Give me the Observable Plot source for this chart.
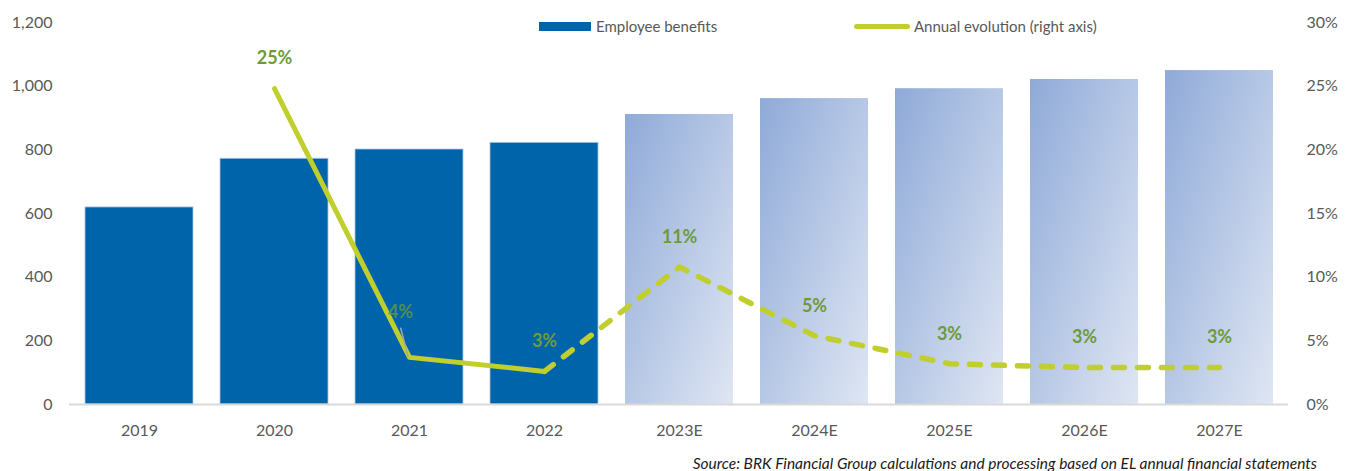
<!DOCTYPE html>
<html>
<head>
<meta charset="utf-8">
<script src="https://cdn.jsdelivr.net/npm/d3@7"></script>
<script src="https://cdn.jsdelivr.net/npm/@observablehq/plot@0.6"></script>
<style>
  body { margin: 0; background: #fff; font-family: Lato, "Open Sans", sans-serif; }
  #wrap { position: relative; width: 1350px; height: 471px; overflow: hidden; }
  #chart { position: absolute; left: 0; top: 0; }
  .abs { position: absolute; }
  .key-text { font-size: 15px; line-height: 18px; color: #595959; top: 17px; white-space: nowrap; }
  #caption { right: 33px; top: 453px; font-size: 15.5px; line-height: 20px; font-style: italic; color: #1a1a1a; white-space: nowrap; }
</style>
</head>
<body>
<div id="wrap">
  <div id="chart"></div>
  <div class="abs" id="key-bar" style="left:539px;top:22px;width:52px;height:9px;"></div>
  <div class="abs key-text" style="left:596px;">Employee benefits</div>
  <div class="abs" id="key-line" style="left:854px;top:23.5px;width:56px;height:5px;border-radius:2.5px;"></div>
  <div class="abs key-text" style="left:914px;">Annual evolution (right axis)</div>
  <div class="abs" id="caption">Source: BRK Financial Group calculations and processing based on EL annual financial statements</div>
</div>
<script>
// Employee benefits by year (left axis) and their annual evolution in % (right axis)
const years = ["2019", "2020", "2021", "2022", "2023E", "2024E", "2025E", "2026E", "2027E"];
const benefits = [619, 772, 801, 822, 911, 961, 992, 1021, 1049];
const evolution = [null, 24.8, 3.7, 2.6, 10.8, 5.4, 3.2, 2.9, 2.9];
const isEstimate = [false, false, false, false, true, true, true, true, true];

const leftTicks = [0, 200, 400, 600, 800, 1000, 1200];
const rightTicks = [0, 5, 10, 15, 20, 25, 30];

const LEFT_MAX = 1200;
const RIGHT_MAX = 30;
const PCT = LEFT_MAX / RIGHT_MAX; // maps a % value onto the left (value) scale

const BLUE = "#0064AA";
const GREEN = "#C0CE2E";
const LABEL_GREEN = "#6E9B3A";

document.getElementById("key-bar").style.background = BLUE;
document.getElementById("key-line").style.background = GREEN;

const rows = years.map((year, i) => ({year, value: benefits[i], pct: evolution[i], estimate: isEstimate[i]}));
const actual = rows.filter(d => !d.estimate);
const estimates = rows.filter(d => d.estimate);
const growth = rows.filter(d => d.pct != null);
const solidPart = growth.filter(d => !d.estimate);                       // 2020–2022
const dashedPart = growth.filter(d => d.estimate || d.year === "2022");  // 2022–2027E

const pctLabel = d => d3.format(".0f")(d.pct) + "%";
const yPct = d => d.pct * PCT;

const chart = Plot.plot({
  width: 1350,
  height: 440,
  marginTop: 22,
  marginBottom: 36,
  marginLeft: 69,
  marginRight: 62,
  style: {fontFamily: "Lato, 'Open Sans', sans-serif", fontSize: "16px", color: "#595959", background: "transparent"},
  x: {domain: years, paddingInner: 0.2, paddingOuter: 0.1, label: null},
  y: {domain: [0, LEFT_MAX], label: null},
  marks: [
    Plot.barY(actual, {x: "year", y: "value", fill: BLUE, stroke: "#a9c8e8", strokeWidth: 0.8}),
    Plot.barY(estimates, {x: "year", y: "value", fill: "url(#estGradient)"}),
    Plot.ruleY([0], {stroke: "#d9d9d9", strokeWidth: 2}),
    Plot.axisY(leftTicks, {anchor: "left", tickSize: 0, tickPadding: 17, tickFormat: d3.format(","), label: null}),
    Plot.axisY(rightTicks.map(t => t * PCT), {anchor: "right", tickSize: 0, tickPadding: 18, tickFormat: v => Math.round(v / PCT) + "%", label: null}),
    Plot.axisX({tickSize: 0, tickPadding: 20, label: null}),
    Plot.line(solidPart, {x: "year", y: yPct, stroke: GREEN, strokeWidth: 5, strokeLinecap: "round", strokeLinejoin: "round"}),
    Plot.line(dashedPart, {x: "year", y: yPct, stroke: GREEN, strokeWidth: 5.5, strokeLinecap: "round", strokeLinejoin: "round", strokeDasharray: "11 13"}),
    // leader line for the 2021 label
    Plot.vector(growth.filter(d => d.year === "2021"), {
      x: "year", y: yPct, dx: -1.5, dy: -1, anchor: "start", length: 29, rotate: -14.5,
      stroke: "#a6a6a6", strokeWidth: 1.5,
      shape: {draw(context, l) { context.moveTo(0, 0); context.lineTo(0, -l); }}
    }),
    Plot.text(growth.filter(d => d.year !== "2021"), {x: "year", y: yPct, text: pctLabel, dy: -30, fill: LABEL_GREEN, fontWeight: 700, fontSize: 18}),
    Plot.text(growth.filter(d => d.year === "2021"), {x: "year", y: yPct, text: pctLabel, dx: -9, dy: -45, fill: LABEL_GREEN, fontWeight: 700, fontSize: 18, fillOpacity: 0.75})
  ]
});

// diagonal light-blue gradient for the estimated years
const defs = d3.select(chart).insert("defs", ":first-child");
const grad = defs.append("linearGradient")
  .attr("id", "estGradient")
  .attr("x1", 0).attr("y1", 0).attr("x2", 1).attr("y2", 1);
grad.append("stop").attr("offset", "0%").attr("stop-color", "#8faad8");
grad.append("stop").attr("offset", "100%").attr("stop-color", "#dfe6f3");

document.getElementById("chart").append(chart);
</script>
</body>
</html>
